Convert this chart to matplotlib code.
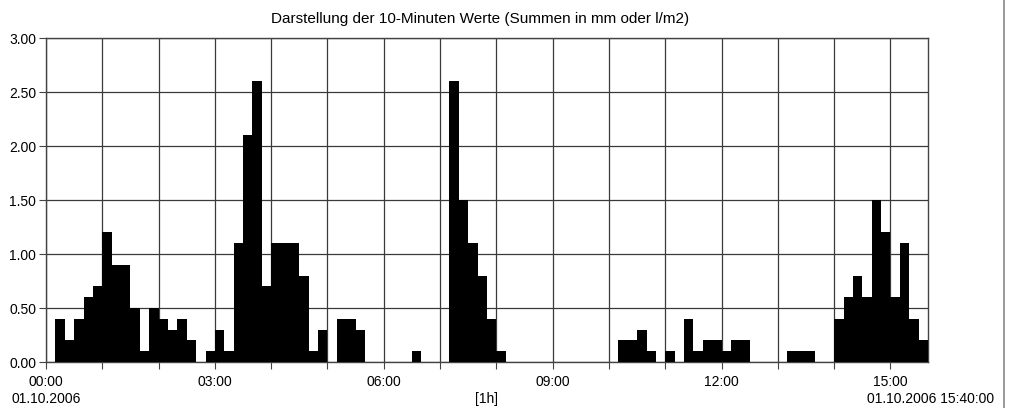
import numpy as np
import matplotlib.pyplot as plt
from matplotlib.lines import Line2D

plt.rcParams['font.family'] = ['Liberation Sans', 'DejaVu Sans']

# 10-minute rainfall sums, 00:00 .. 15:30 (94 intervals)
werte = [
    0, 0.4, 0.2, 0.4, 0.6, 0.7,     # 00
    1.2, 0.9, 0.9, 0.5, 0.1, 0.5,   # 01
    0.4, 0.3, 0.4, 0.2, 0, 0.1,     # 02
    0.3, 0.1, 1.1, 2.1, 2.6, 0.7,   # 03
    1.1, 1.1, 1.1, 0.8, 0.1, 0.3,   # 04
    0, 0.4, 0.4, 0.3, 0, 0,         # 05
    0, 0, 0, 0.1, 0, 0,             # 06
    0, 2.6, 1.5, 1.1, 0.8, 0.4,     # 07
    0.1, 0, 0, 0, 0, 0,             # 08
    0, 0, 0, 0, 0, 0,               # 09
    0, 0.2, 0.2, 0.3, 0.1, 0,       # 10
    0.1, 0, 0.4, 0.1, 0.2, 0.2,     # 11
    0.1, 0.2, 0.2, 0, 0, 0,         # 12
    0, 0.1, 0.1, 0.1, 0, 0,         # 13
    0.4, 0.6, 0.8, 0.6, 1.5, 1.2,   # 14
    0.6, 1.1, 0.4, 0.2,             # 15
]
tick_labels = ['00:00', '03:00', '06:00', '09:00', '12:00', '15:00']
titel = 'Darstellung der 10-Minuten Werte (Summen in mm oder l/m2)'

werte = np.array(werte)
stunden = np.arange(len(werte)) / 6.0   # start of each interval in hours

fig = plt.figure(figsize=(10.11, 4.08), dpi=100)
ax = fig.add_axes([46 / 1011, 1 - 362 / 408, 882 / 1011, 324 / 408])

ax.bar(stunden, werte, width=1 / 6, align='edge', color='black', zorder=3)

ax.set_xlim(0, len(werte) / 6)
ax.set_ylim(0, 3)
ax.set_xticks(np.arange(0, 16))
ax.set_xticklabels(['' if h % 3 else tick_labels[h // 3] for h in range(16)])
ax.set_yticks(np.arange(0, 3.01, 0.5))
ax.set_yticklabels(['%.2f' % v for v in np.arange(0, 3.01, 0.5)])
ax.tick_params(axis='both', labelsize=10, length=5, width=0.8, color='#444444')
ax.tick_params(axis='x', pad=4)
ax.tick_params(axis='y', pad=2)
ax.grid(True, color='#3a3a3a', linewidth=0.9, zorder=1)
for s in ax.spines.values():
    s.set_color('#444444')
    s.set_linewidth(1.0)

fig.text(480 / 1011, 1 - 19 / 408, titel, ha='center', va='center', fontsize=11)
fig.text(46 / 1011, 1 - 399 / 408, '01.10.2006', ha='center', va='center', fontsize=10)
fig.text(487 / 1011, 1 - 399 / 408, '[1h]', ha='center', va='center', fontsize=10)
fig.text(994 / 1011, 1 - 399 / 408, '01.10.2006 15:40:00', ha='right', va='center', fontsize=10)

fig.add_artist(Line2D([1004 / 1011, 1004 / 1011], [0, 1], color='#888888', linewidth=1.2))

fig.savefig('out.png', dpi=100)
